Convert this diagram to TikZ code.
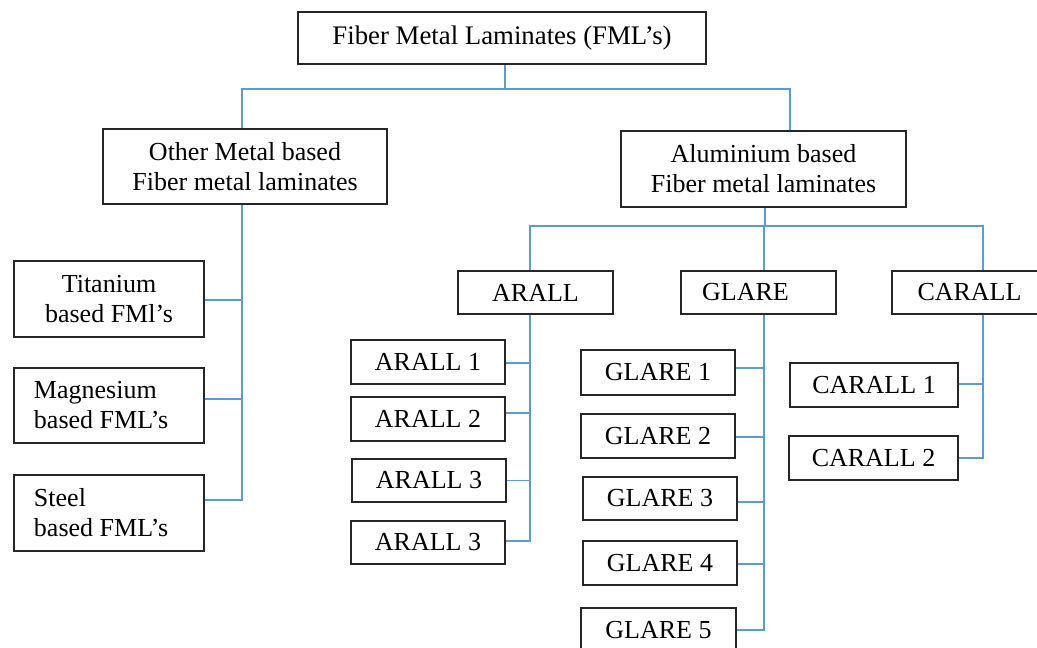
\documentclass[tikz,border=0pt]{standalone}
\usepackage{fontspec}
\setmainfont{Liberation Serif}
\definecolor{connblue}{RGB}{91,155,213}
\begin{document}
\begin{tikzpicture}[x=1pt,y=-1pt,
  box/.style={draw=black!85,line width=1.1pt,inner sep=0pt,align=center,font=\fontsize{26}{30}\selectfont},
  lbox/.style={box,align=flush left,inner xsep=20pt,text width=150pt,minimum width=190pt},
  conn/.style={draw=connblue,line width=1.1pt}]
\useasboundingbox (0,0) rectangle (1037,648);
\clip (0,0) rectangle (1037,648);
% nodes
\node[box,line width=2.2pt,minimum width=408pt,minimum height=52pt,font=\fontsize{26.8}{30}\selectfont] (top) at (502,38) {Fiber Metal Laminates (FML’s)};
\node[box,minimum width=284pt,minimum height=75pt] (other) at (245,166.5) {Other Metal based\\Fiber metal laminates};
\node[box,minimum width=285pt,minimum height=76pt] (alu) at (763.5,169) {Aluminium based\\Fiber metal laminates};
\node[box,minimum width=190pt,minimum height=76pt] (tit) at (109,299) {Titanium\\based FMl’s};
\node[lbox,minimum height=75pt] (mag) at (109,405.5) {Magnesium\\based FML’s};
\node[lbox,minimum height=76pt] (steel) at (109,513) {Steel\\based FML’s};
\node[box,minimum width=155pt,minimum height=43pt] (arall) at (535.5,292.5) {ARALL};
\node[box,minimum width=155pt,minimum height=43pt] (glare) at (758.5,292.5) {GLARE\hspace*{26pt}};
\node[box,minimum width=155pt,minimum height=43pt] (carall) at (969.5,292.5) {CARALL};
\node[box,minimum width=154pt,minimum height=44pt] (a1) at (428,362) {ARALL 1};
\node[box,minimum width=154pt,minimum height=44pt] (a2) at (428,419) {ARALL 2};
\node[box,minimum width=154pt,minimum height=43pt] (a3) at (429,480.5) {ARALL 3};
\node[box,minimum width=154pt,minimum height=43pt] (a4) at (428,542.5) {ARALL 3};
\node[box,minimum width=154pt,minimum height=45pt] (g1) at (658,372.5) {GLARE 1};
\node[box,minimum width=154pt,minimum height=44pt] (g2) at (658,436) {GLARE 2};
\node[box,minimum width=154pt,minimum height=43pt] (g3) at (660,498.5) {GLARE 3};
\node[box,minimum width=154pt,minimum height=44pt] (g4) at (660,563) {GLARE 4};
\node[box,minimum width=155pt,minimum height=44pt] (g5) at (658.5,630) {GLARE 5};
\node[box,minimum width=168pt,minimum height=44pt] (c1) at (874,385) {CARALL 1};
\node[box,minimum width=169pt,minimum height=44pt] (c2) at (873.5,458) {CARALL 2};
% junction coordinates
\coordinate (h1) at (505,89);
\coordinate (h1l) at (242,89);
\coordinate (h1r) at (790,89);
\coordinate (vo) at (242,0);
\coordinate (h2) at (765,226);
\coordinate (va) at (530,226);
\coordinate (vg) at (764,226);
\coordinate (vc) at (983,226);
% connectors
\draw[conn] (top.south -| h1) -- (h1);
\draw[conn] (other.north -| h1l) |- (h1r) -- (alu.north -| h1r);
\draw[conn] (other.south -| vo) -- ([yshift=13pt]steel.east -| vo) -- ([yshift=13pt]steel.east);
\draw[conn] ([yshift=-1pt]tit.east) -- ([yshift=-1pt]tit.east -| vo);
\draw[conn] ([yshift=6.5pt]mag.east) -- ([yshift=6.5pt]mag.east -| vo);
\draw[conn] (alu.south -| h2) -- (h2);
\draw[conn] (arall.north -| va) |- (vc) -- (carall.north -| vc);
\draw[conn] (vg) -- (glare.north -| vg);
% ARALL branch
\draw[conn] (arall.south -| va) -- ([yshift=1.5pt]a4.east -| va) -- ([yshift=1.5pt]a4.east);
\draw[conn] ([yshift=-1pt]a1.east) -- ([yshift=-1pt]a1.east -| va);
\draw[conn] ([yshift=6pt]a2.east) -- ([yshift=6pt]a2.east -| va);
\draw[conn] (a3.east) -- (a3.east -| va);
% GLARE branch
\draw[conn] (glare.south -| vg) -- (g5.east -| vg) -- (g5.east);
\draw[conn] ([yshift=4.5pt]g1.east) -- ([yshift=4.5pt]g1.east -| vg);
\draw[conn] ([yshift=-1pt]g2.east) -- ([yshift=-1pt]g2.east -| vg);
\draw[conn] ([yshift=-3.5pt]g3.east) -- ([yshift=-3.5pt]g3.east -| vg);
\draw[conn] ([yshift=-1pt]g4.east) -- ([yshift=-1pt]g4.east -| vg);
% CARALL branch
\draw[conn] (carall.south -| vc) -- (c2.east -| vc) -- (c2.east);
\draw[conn] ([yshift=1pt]c1.east) -- ([yshift=1pt]c1.east -| vc);
\end{tikzpicture}
\end{document}
